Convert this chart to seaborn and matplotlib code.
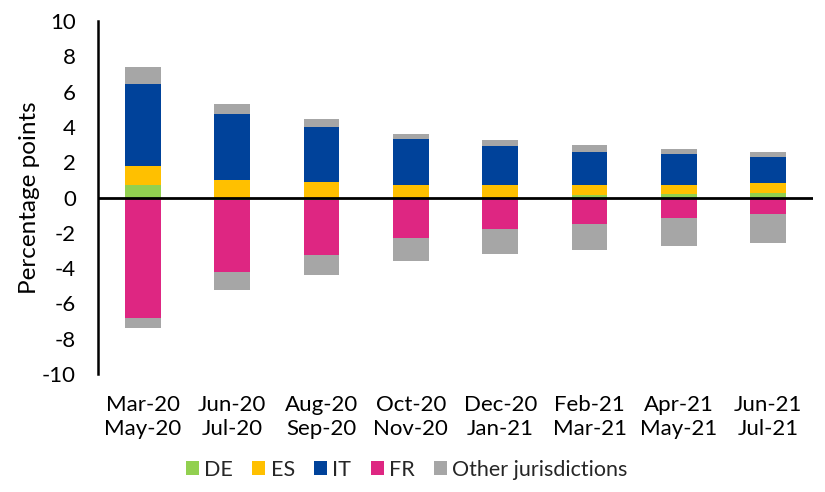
import matplotlib
matplotlib.use("Agg")
import matplotlib.pyplot as plt
from matplotlib.patches import Patch
import seaborn as sns
import pandas as pd
import numpy as np

categories = ["Mar-20\nMay-20", "Jun-20\nJul-20", "Aug-20\nSep-20", "Oct-20\nNov-20",
              "Dec-20\nJan-21", "Feb-21\nMar-21", "Apr-21\nMay-21", "Jun-21\nJul-21"]
DE = [0.74, -0.15, -0.15, 0.0, 0.0, 0.12, 0.19, 0.27]
ES = [1.04, 1.02, 0.87, 0.72, 0.72, 0.60, 0.53, 0.56]
IT = [4.64, 3.73, 3.13, 2.58, 2.20, 1.88, 1.74, 1.47]
FR = [-6.80, -4.09, -3.09, -2.29, -1.78, -1.48, -1.17, -0.94]
Other_pos = [1.00, 0.53, 0.43, 0.32, 0.32, 0.38, 0.30, 0.29]
Other_neg = [-0.57, -0.99, -1.17, -1.29, -1.42, -1.51, -1.60, -1.66]
yticks = list(range(-10, 11, 2))

colors = {"DE": "#92D050", "ES": "#FFC000", "IT": "#00429A", "FR": "#DE2682",
          "Other jurisdictions": "#A6A6A6"}

sns.set_theme(style="white")
plt.rcParams["font.family"] = ["Lato", "DejaVu Sans"]

de = np.array(DE)
de_pos = np.clip(de, 0, None)
de_neg = np.clip(de, None, 0)
p1 = de_pos
p2 = p1 + np.array(ES)
p3 = p2 + np.array(IT)
p4 = p3 + np.array(Other_pos)
n1 = de_neg
n2 = n1 + np.array(FR)
n3 = n2 + np.array(Other_neg)

fig = plt.figure(figsize=(8.25, 4.92), dpi=100)
ax = fig.add_axes([0.1188, 0.2398, 0.9855 - 0.1188, 0.957 - 0.2398])

layers = [(p4, colors["Other jurisdictions"]), (p3, colors["IT"]), (p2, colors["ES"]), (p1, colors["DE"]),
          (n3, colors["Other jurisdictions"]), (n2, colors["FR"]), (n1, colors["DE"])]
for vals, c in layers:
    df = pd.DataFrame({"cat": categories, "val": vals})
    sns.barplot(data=df, x="cat", y="val", color=c, width=0.4, ax=ax,
                saturation=1, linewidth=0, errorbar=None)

ax.axhline(0, color="black", lw=2, zorder=5)
ax.set_ylim(-10, 10)
ax.set_xlim(-0.5, len(categories) - 0.5)
ax.set_yticks(yticks)
ax.set_yticklabels([str(t) for t in yticks])
ax.set_xlabel("")
ax.set_ylabel("Percentage points", fontsize=17.5, color="black", labelpad=1)
ax.tick_params(axis="y", length=0, pad=16, labelsize=16, labelcolor="black")
ax.tick_params(axis="x", length=0, pad=15, labelsize=16, labelcolor="black")
for lbl in ax.get_xticklabels():
    lbl.set_linespacing(1.25)
for s in ["top", "right", "bottom"]:
    ax.spines[s].set_visible(False)
ax.spines["left"].set_color("black")
ax.spines["left"].set_linewidth(1.8)

handles = [Patch(facecolor=colors[k], edgecolor="none", label=k) for k in colors]
fig.legend(handles=handles, loc="center", bbox_to_anchor=(0.493, 0.045), ncol=5, frameon=False,
           fontsize=15.5, handlelength=0.6, handleheight=0.6, handletextpad=0.25, columnspacing=0.9)

fig.savefig("out.png", dpi=100)
